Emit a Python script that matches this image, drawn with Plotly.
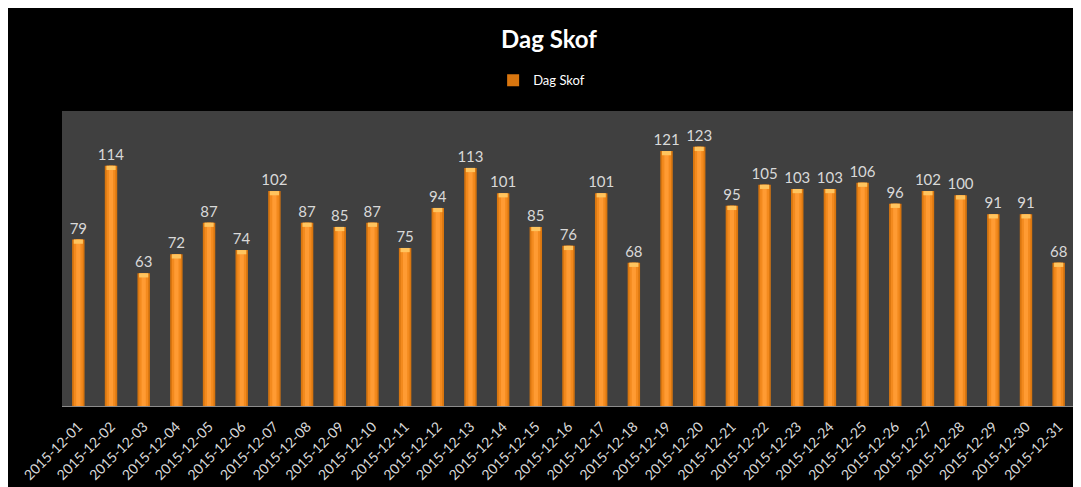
import plotly.graph_objects as go

dates = ["2015-12-%02d" % d for d in range(1, 32)]
values = [79, 114, 63, 72, 87, 74, 102, 87, 85, 87, 75, 94, 113, 101, 85, 76,
          101, 68, 121, 123, 95, 105, 103, 103, 106, 96, 102, 100, 91, 91, 68]
series_name = "Dag Skof"

W, H = 1081, 487
OFF = 8  # page body margin
L, T = 57 - OFF, 111 - OFF
R = W - (1075 - OFF)
B = H - (408 - OFF)
pw, ph = W - L - R, H - T - B

CAP = 2.0  # height of the light bevel at the bar tops (value units)

fig = go.Figure()
fig.add_trace(go.Bar(
    x=dates, y=values, name=series_name, width=0.38,
    marker=dict(color="#D9760F", line=dict(width=0)),
    text=[str(v) for v in values], textposition="outside", constraintext="none",
    textfont=dict(color="#D9D9D9", size=15, family="Lato"),
    cliponaxis=False, showlegend=True,
))
fig.add_trace(go.Bar(
    x=dates, y=values, width=0.27, marker=dict(color="#F38A1E", line=dict(width=0)),
    showlegend=False, hoverinfo="skip",
))
fig.add_trace(go.Bar(
    x=dates, y=values, width=0.13, marker=dict(color="#FF9B33", line=dict(width=0)),
    showlegend=False, hoverinfo="skip",
))
fig.add_trace(go.Bar(
    x=dates, y=[CAP] * len(values), base=[v - CAP for v in values], width=0.28,
    marker=dict(color="#FFC45E", line=dict(width=0)),
    showlegend=False, hoverinfo="skip",
))

fig.update_layout(
    width=W, height=H,
    margin=dict(l=L, r=R, t=T, b=B),
    paper_bgcolor="black", plot_bgcolor="#404040",
    barmode="overlay",
    font=dict(family="Lato", color="#D9D9D9"),
    title=dict(text="<b>Dag Skof</b>", font=dict(size=24, color="white", family="Lato"),
               x=(549 - OFF) / W, xref="container", xanchor="center",
               y=1 - (40 - OFF) / H, yref="container", yanchor="middle"),
    legend=dict(orientation="h", x=(539 - OFF - L) / pw, xanchor="center",
                y=(408 - 80) / ph, yanchor="middle",
                font=dict(size=13, color="white", family="Lato"),
                bgcolor="rgba(0,0,0,0)", itemwidth=30),
    xaxis=dict(type="category", tickangle=-45, showgrid=False,
               tickfont=dict(size=14, color="#D9D9D9", family="Lato"),
               showline=True, linecolor="#8C8C8C", linewidth=1,
               ticks="outside", ticklen=6, tickcolor="rgba(0,0,0,0)",
               range=[-0.5, 30.5]),
    yaxis=dict(range=[0, 140], visible=False, showgrid=False),
)

fig.write_html("out.html")
